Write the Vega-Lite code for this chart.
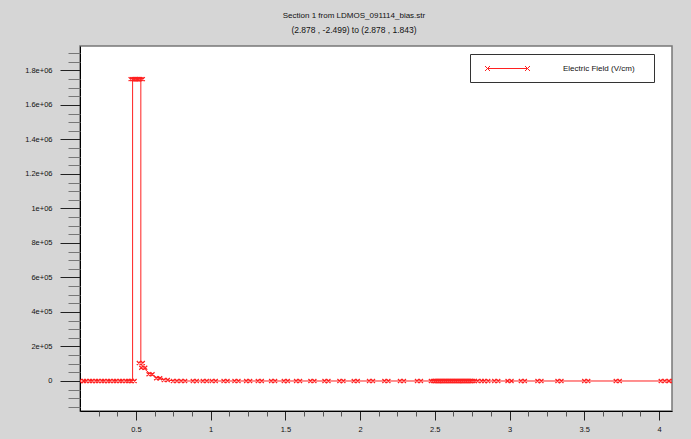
{
  "$schema": "https://vega.github.io/schema/vega-lite/v6.json",
  "width": 592,
  "height": 365,
  "autosize": {"type": "none"},
  "padding": {"left": 80, "top": 46, "right": 19, "bottom": 28},
  "background": "#d6d6d6",
  "title": {
    "text": "Section 1 from LDMOS_091114_bias.str",
    "subtitle": "(2.878 , -2.499) to (2.878 , 1.843)",
    "font": "Liberation Sans",
    "subtitleFont": "Liberation Sans",
    "fontSize": 8,
    "subtitleFontSize": 8.5,
    "fontWeight": "normal",
    "color": "#111",
    "subtitleColor": "#111",
    "anchor": "middle",
    "dx": -22,
    "offset": 12,
    "subtitlePadding": 6
  },
  "config": {
    "view": {"fill": "white", "stroke": "#777", "strokeWidth": 1.5},
    "axis": {"labelFont": "Liberation Sans", "labelFontSize": 7.5, "labelColor": "#111", "grid": false, "title": null}
  },
  "data": {
    "values": [
      {"o": 1, "x": 0.139, "y": 0},
      {"o": 2, "x": 0.18, "y": 0},
      {"o": 3, "x": 0.22, "y": 0},
      {"o": 4, "x": 0.26, "y": 0},
      {"o": 5, "x": 0.30, "y": 0},
      {"o": 6, "x": 0.34, "y": 0},
      {"o": 7, "x": 0.38, "y": 0},
      {"o": 8, "x": 0.42, "y": 0},
      {"o": 9, "x": 0.46, "y": 0},
      {"o": 10, "x": 0.478, "y": 0},
      {"o": 11, "x": 0.478, "y": 1750000},
      {"o": 12, "x": 0.488, "y": 1750000},
      {"o": 13, "x": 0.497, "y": 1750000},
      {"o": 14, "x": 0.506, "y": 1750000},
      {"o": 15, "x": 0.515, "y": 1750000},
      {"o": 16, "x": 0.524, "y": 1750000},
      {"o": 17, "x": 0.533, "y": 1750000},
      {"o": 18, "x": 0.533, "y": 104000},
      {"o": 19, "x": 0.549, "y": 77000},
      {"o": 20, "x": 0.598, "y": 39000},
      {"o": 21, "x": 0.649, "y": 16000},
      {"o": 22, "x": 0.70, "y": 6000},
      {"o": 23, "x": 0.761, "y": 0},
      {"o": 24, "x": 0.816, "y": 0},
      {"o": 25, "x": 0.894, "y": 0},
      {"o": 26, "x": 0.961, "y": 0},
      {"o": 27, "x": 1.021, "y": 0},
      {"o": 28, "x": 1.10, "y": 0},
      {"o": 29, "x": 1.173, "y": 0},
      {"o": 30, "x": 1.251, "y": 0},
      {"o": 31, "x": 1.329, "y": 0},
      {"o": 32, "x": 1.418, "y": 0},
      {"o": 33, "x": 1.503, "y": 0},
      {"o": 34, "x": 1.585, "y": 0},
      {"o": 35, "x": 1.681, "y": 0},
      {"o": 36, "x": 1.775, "y": 0},
      {"o": 37, "x": 1.875, "y": 0},
      {"o": 38, "x": 1.971, "y": 0},
      {"o": 39, "x": 2.073, "y": 0},
      {"o": 40, "x": 2.176, "y": 0},
      {"o": 41, "x": 2.28, "y": 0},
      {"o": 42, "x": 2.394, "y": 0},
      {"o": 43, "x": 2.487, "y": 0},
      {"o": 44, "x": 2.50, "y": 0},
      {"o": 45, "x": 2.514, "y": 0},
      {"o": 46, "x": 2.527, "y": 0},
      {"o": 47, "x": 2.541, "y": 0},
      {"o": 48, "x": 2.554, "y": 0},
      {"o": 49, "x": 2.567, "y": 0},
      {"o": 50, "x": 2.581, "y": 0},
      {"o": 51, "x": 2.594, "y": 0},
      {"o": 52, "x": 2.608, "y": 0},
      {"o": 53, "x": 2.621, "y": 0},
      {"o": 54, "x": 2.634, "y": 0},
      {"o": 55, "x": 2.648, "y": 0},
      {"o": 56, "x": 2.661, "y": 0},
      {"o": 57, "x": 2.675, "y": 0},
      {"o": 58, "x": 2.688, "y": 0},
      {"o": 59, "x": 2.701, "y": 0},
      {"o": 60, "x": 2.715, "y": 0},
      {"o": 61, "x": 2.728, "y": 0},
      {"o": 62, "x": 2.742, "y": 0},
      {"o": 63, "x": 2.755, "y": 0},
      {"o": 64, "x": 2.80, "y": 0},
      {"o": 65, "x": 2.844, "y": 0},
      {"o": 66, "x": 2.911, "y": 0},
      {"o": 67, "x": 3.0, "y": 0},
      {"o": 68, "x": 3.089, "y": 0},
      {"o": 69, "x": 3.20, "y": 0},
      {"o": 70, "x": 3.334, "y": 0},
      {"o": 71, "x": 3.513, "y": 0},
      {"o": 72, "x": 3.724, "y": 0},
      {"o": 73, "x": 4.025, "y": 0},
      {"o": 74, "x": 4.08, "y": 0}
    ]
  },
  "layer": [
    {
      "mark": {"type": "line", "strokeWidth": 1, "clip": true},
      "encoding": {
        "x": {"field": "x", "type": "quantitative", "scale": {"domain": [0.126, 4.087], "nice": false, "zero": false},
              "axis": {"orient": "bottom", "values": [0.5, 1, 1.5, 2, 2.5, 3, 3.5, 4], "format": "~g", "tickSize": 9, "tickColor": "#222", "domainColor": "#000", "labelPadding": 5}},
        "y": {"field": "y", "type": "quantitative", "scale": {"domain": [-174000, 1942000], "nice": false, "zero": false},
              "axis": {"orient": "left", "values": [0, 200000, 400000, 600000, 800000, 1000000, 1200000, 1400000, 1600000, 1800000], "tickSize": 20, "tickColor": "#222", "domainColor": "#000", "labelPadding": 8,
                       "labelExpr": "datum.value == 0 ? '0' : format(datum.value / pow(10, floor(log(datum.value) / LN10 + 1e-9)), '~g') + 'e+0' + floor(log(datum.value) / LN10 + 1e-9)"}},
        "order": {"field": "o", "type": "quantitative"},
        "color": {"datum": "Electric Field (V/cm)", "type": "nominal", "scale": {"range": ["#ff2020"]},
                  "legend": {"title": "\u00a0", "titleOrient": "right", "titlePadding": 10, "titleFontSize": 8, "orient": "none", "legendX": 390, "legendY": 8, "strokeColor": "#333", "fillColor": "white", "padding": 9,
                             "symbolType": "M-4,0L4,0M-4.5,-0.5L-3.5,0.5M-4.5,0.5L-3.5,-0.5M3.5,-0.5L4.5,0.5M3.5,0.5L4.5,-0.5",
                             "symbolSize": 100, "symbolStrokeWidth": 1, "symbolFillColor": "transparent", "symbolStrokeColor": "#ff4040",
                             "symbolOffset": 23, "labelOffset": 50, "labelFont": "Liberation Sans", "labelFontSize": 8, "labelColor": "#111"}}
      }
    },
    {
      "mark": {"type": "point", "shape": "M-1,-0.5L0,0.5M-1,0.5L0,-0.5M0,-0.5L1,0.5M0,0.5L1,-0.5", "size": 64, "filled": false, "strokeWidth": 1.2, "opacity": 1, "clip": true},
      "encoding": {
        "x": {"field": "x", "type": "quantitative",
              "axis": {"orient": "bottom", "values": [0.25, 0.375, 0.625, 0.75, 0.875, 1.125, 1.25, 1.375, 1.625, 1.75, 1.875, 2.125, 2.25, 2.375, 2.625, 2.75, 2.875, 3.125, 3.25, 3.375, 3.625, 3.75, 3.875], "tickSize": 5, "tickColor": "#555", "labels": false, "domain": false}},
        "y": {"field": "y", "type": "quantitative",
              "axis": {"orient": "left", "values": [-150000, -100000, -50000, 50000, 100000, 150000, 250000, 300000, 350000, 450000, 500000, 550000, 650000, 700000, 750000, 850000, 900000, 950000, 1050000, 1100000, 1150000, 1250000, 1300000, 1350000, 1450000, 1500000, 1550000, 1650000, 1700000, 1750000, 1850000, 1900000], "tickSize": 12, "tickColor": "#777", "labels": false, "domain": false}},
        "color": {"datum": "Electric Field (V/cm)", "type": "nominal"}
      }
    }
  ],
  "resolve": {"axis": {"x": "independent", "y": "independent"}}
}
